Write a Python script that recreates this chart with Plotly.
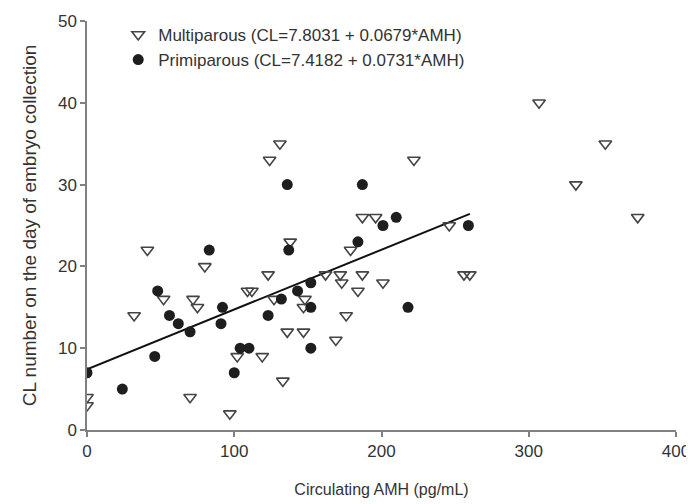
import plotly.graph_objects as go

# Multiparous cows (open triangles)
multi_amh = [0, 0, 41, 52, 32, 72, 75, 70, 80, 102, 97, 119, 109, 112, 123, 127,
             133, 124, 131, 138, 136, 148, 147, 147, 162, 172, 173, 187, 184, 201,
             176, 169, 179, 187, 196, 222, 246, 256, 260, 307, 352, 332, 374]
multi_cl = [4, 3, 22, 16, 14, 16, 15, 4, 20, 9, 2, 9, 17, 17, 19, 16,
            6, 33, 35, 23, 12, 16, 15, 12, 19, 19, 18, 19, 17, 18,
            14, 11, 22, 26, 26, 33, 25, 19, 19, 40, 35, 30, 26]

# Primiparous cows (filled circles)
primi_amh = [0, 24, 46, 48, 56, 62, 70, 83, 92, 91, 100, 104, 110, 123, 132,
             136, 137, 143, 152, 152, 152, 184, 187, 201, 210, 218, 259]
primi_cl = [7, 5, 9, 17, 14, 13, 12, 22, 15, 13, 7, 10, 10, 14, 16,
            30, 22, 17, 18, 15, 10, 23, 30, 25, 26, 15, 25]

# Regression (primiparous equation)
fit_intercept = 7.4182
fit_slope = 0.0731
fit_x = [0, 260]
fit_y = [fit_intercept + fit_slope * v for v in fit_x]

legend_multi = "Multiparous (CL=7.8031 + 0.0679*AMH)"
legend_primi = "Primiparous (CL=7.4182 + 0.0731*AMH)"

font_family = "Liberation Sans, Arial, sans-serif"

fig = go.Figure()
fig.add_trace(go.Scatter(
    x=fit_x, y=fit_y, mode="lines",
    line=dict(color="#111111", width=2), showlegend=False, hoverinfo="skip"))
fig.add_trace(go.Scatter(
    x=multi_amh, y=multi_cl, mode="markers", name=legend_multi,
    marker=dict(symbol="triangle-down-open", size=11, color="#444444",
                line=dict(width=1.6, color="#444444"))))
fig.add_trace(go.Scatter(
    x=primi_amh, y=primi_cl, mode="markers", name=legend_primi,
    marker=dict(symbol="circle", size=11, color="#1e1e1e",
                line=dict(width=0))))

axis_common = dict(
    showgrid=False, zeroline=False, showline=True, linecolor="#808080",
    linewidth=1.5, ticks="outside", ticklen=5, tickcolor="#808080",
    tickwidth=1.5, automargin=False,
    tickfont=dict(size=17, color="#333333", family=font_family),
)

# page body has an 8px margin, so the figure is sized/offset to compensate
fig.update_layout(
    width=694, height=496,
    margin=dict(l=79, r=26, t=9, b=74),
    paper_bgcolor="white", plot_bgcolor="white",
    font=dict(family=font_family, color="#333333"),
    xaxis=dict(range=[0, 400], tickvals=[0, 100, 200, 300, 400],
               title=dict(text="Circulating AMH (pg/mL)",
                          font=dict(size=16, color="#333333"), standoff=24),
               **axis_common),
    yaxis=dict(range=[0, 50], tickvals=[0, 10, 20, 30, 40, 50],
               title=dict(text="CL number on the day of embryo collection",
                          font=dict(size=19, color="#333333"), standoff=16),
               **axis_common),
    legend=dict(x=0.053, y=1.01, xanchor="left", yanchor="top",
                bgcolor="rgba(0,0,0,0)", font=dict(size=17, color="#333333"),
                tracegroupgap=0),
)

fig.write_html("out.html")
